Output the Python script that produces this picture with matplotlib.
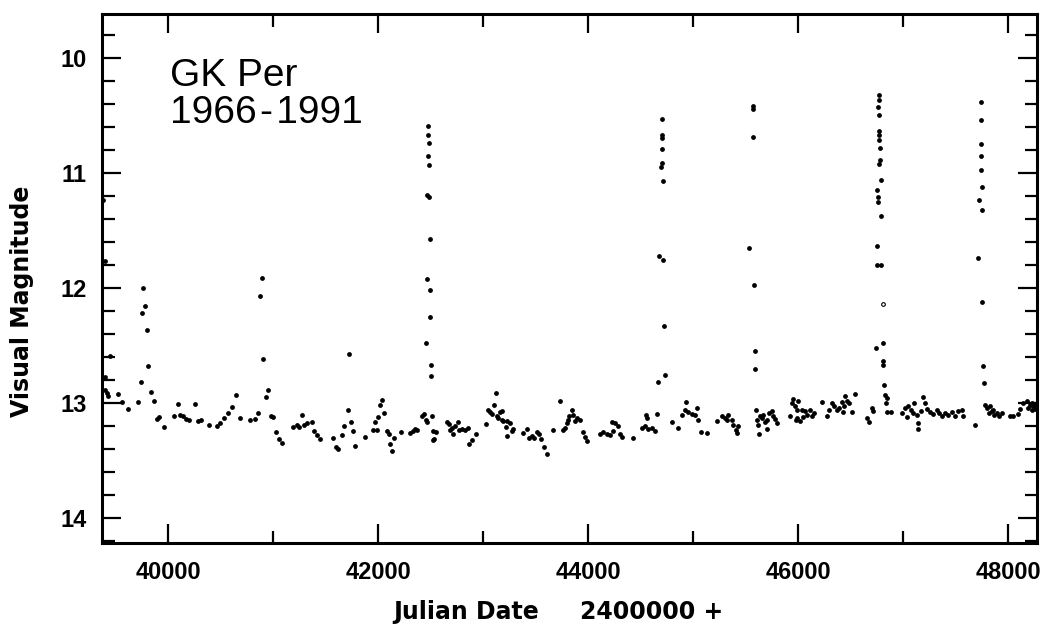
import numpy as np
from matplotlib import pyplot as plt
from matplotlib.ticker import MultipleLocator

## GK Per visual light curve, JD - 2400000 vs visual magnitude

# quiescent points between outbursts
quiet_jd = [
    39400, 39400, 39416, 39431, 39527, 39558, 39622, 39717, 39739, 39835,
    39866, 39898, 39917, 39965, 40060, 40092, 40114, 40146, 40171, 40200,
    40257, 40289, 40311, 40393, 40463, 40495, 40536, 40568, 40606, 40644,
    40686, 40781, 40828, 40854, 40930, 40952, 40981, 41003, 41028, 41057,
    41089, 41194, 41225, 41251, 41279, 41295, 41320, 41368, 41393, 41422,
    41447, 41568, 41600, 41622, 41660, 41680, 41718, 41740, 41759, 41784,
    41873, 41949, 41972, 41987, 42003, 42019, 42041, 42057, 42083, 42105,
    42115, 42130, 42156, 42219, 42305, 42330, 42353, 42375, 42416, 42438,
    42454, 42464, 42511, 42521, 42527, 42534, 42553, 42654, 42680, 42686,
    42702, 42718, 42734, 42759, 42775, 42797, 42829, 42861, 42866, 42892,
    42930, 43029, 43051, 43067, 43089, 43108, 43121, 43131, 43146, 43162,
    43178, 43184, 43194, 43219, 43226, 43232, 43258, 43273, 43283, 43385,
    43416, 43442, 43464, 43486, 43511, 43537, 43550, 43584, 43607, 43664,
    43734, 43765, 43781, 43797, 43812, 43823, 43844, 43860, 43876, 43892,
    43924, 43949, 43971, 43987, 44114, 44146, 44178, 44209, 44225, 44241,
    44257, 44289, 44305, 44320, 44425, 44511, 44543, 44552, 44565, 44574,
    44606, 44638, 44654, 44797, 44860, 44892, 44924, 44933, 44955, 44987,
    45019, 45041, 45051, 45073, 45136, 45225, 45273, 45305, 45321, 45336,
    45368, 45384, 45409, 45422, 45432, 45600, 45606, 45622, 45632, 45638,
    45654, 45670, 45686, 45701, 45708, 45727, 45749, 45765, 45781, 45797,
    45924, 45940, 45956, 45971, 45981, 45988, 45994, 46003, 46019, 46035,
    46051, 46067, 46083, 46115, 46130, 46153, 46226, 46280, 46299, 46321,
    46343, 46368, 46394, 46416, 46426, 46438, 46448, 46464, 46489, 46511,
    46543, 46654, 46680, 46702, 46718, 46829, 46838, 46851, 46883, 46988,
    47019, 47042, 47051, 47073, 47092, 47105, 47130, 47140, 47145, 47169,
    47194, 47210, 47226, 47258, 47289, 47321, 47346, 47369, 47400, 47432,
    47464, 47496, 47527, 47559, 47575, 47686, 47781, 47804, 47823, 47829,
    47845, 47861, 47867, 47892, 47918, 47940, 48019, 48045, 48099, 48115,
    48146, 48178, 48194, 48210, 48226, 48230, 48242, 48250, 48257, 48265,
    48273,
]
quiet_mag = [
    12.777, 12.887, 12.916, 12.945, 12.925, 12.990, 13.055, 12.994, 12.823, 12.910,
    12.983, 13.142, 13.125, 13.215, 13.119, 13.012, 13.104, 13.119, 13.139, 13.148,
    13.012, 13.163, 13.148, 13.192, 13.206, 13.177, 13.134, 13.090, 13.038, 12.933,
    13.134, 13.154, 13.139, 13.090, 12.954, 12.887, 13.119, 13.125, 13.258, 13.316,
    13.351, 13.212, 13.192, 13.215, 13.110, 13.192, 13.177, 13.168, 13.244, 13.278,
    13.316, 13.307, 13.386, 13.403, 13.278, 13.206, 13.067, 13.168, 13.244, 13.374,
    13.299, 13.241, 13.168, 13.241, 13.125, 13.023, 12.974, 13.090, 13.250, 13.270,
    13.357, 13.418, 13.307, 13.255, 13.264, 13.250, 13.229, 13.235, 13.113, 13.099,
    13.148, 13.165, 13.113, 13.325, 13.250, 13.316, 13.258, 13.171, 13.186, 13.235,
    13.220, 13.270, 13.206, 13.168, 13.235, 13.226, 13.235, 13.220, 13.357, 13.322,
    13.270, 13.183, 13.061, 13.084, 13.099, 13.023, 12.916, 13.119, 13.134, 13.084,
    13.148, 13.075, 13.163, 13.212, 13.163, 13.293, 13.177, 13.250, 13.229, 13.264,
    13.229, 13.307, 13.293, 13.307, 13.258, 13.270, 13.313, 13.386, 13.444, 13.241,
    12.988, 13.241, 13.220, 13.177, 13.148, 13.119, 13.067, 13.104, 13.163, 13.134,
    13.148, 13.258, 13.299, 13.336, 13.270, 13.258, 13.270, 13.278, 13.171, 13.250,
    13.177, 13.206, 13.270, 13.299, 13.307, 13.220, 13.206, 13.104, 13.134, 13.229,
    13.220, 13.250, 13.096, 13.168, 13.220, 13.104, 13.061, 12.997, 13.084, 13.096,
    13.104, 13.046, 13.148, 13.258, 13.264, 13.163, 13.113, 13.134, 13.154, 13.104,
    13.148, 13.192, 13.235, 13.264, 13.200, 13.061, 13.148, 13.192, 13.270, 13.119,
    13.134, 13.104, 13.171, 13.148, 13.229, 13.090, 13.075, 13.119, 13.142, 13.177,
    13.119, 13.003, 12.968, 13.032, 13.148, 13.134, 13.061, 12.988, 13.163, 13.067,
    13.125, 13.075, 13.104, 13.061, 13.119, 13.090, 12.997, 13.119, 13.061, 13.003,
    13.032, 13.061, 13.046, 12.997, 13.084, 13.032, 12.945, 12.988, 13.003, 13.084,
    12.925, 13.134, 13.171, 13.046, 13.075, 12.930, 13.003, 13.084, 13.084, 13.090,
    13.046, 13.125, 13.026, 13.061, 13.090, 13.003, 13.104, 13.177, 13.229, 13.075,
    12.951, 13.003, 13.055, 13.084, 13.096, 13.061, 13.090, 13.113, 13.090, 13.104,
    13.084, 13.113, 13.075, 13.061, 13.119, 13.192, 13.017, 13.046, 13.090, 13.032,
    13.075, 13.061, 13.104, 13.090, 13.113, 13.090, 13.113, 13.119, 13.096, 13.055,
    13.003, 12.988, 13.046, 13.017, 13.061, 13.000, 13.032, 13.020, 13.055, 13.040,
    13.003,
]

# rises and declines of the dwarf-nova outbursts
burst_jd = [
    39384, 39400, 39448,
    39755, 39765, 39781, 39803, 39812,
    40876, 40892, 40908,
    41727,
    42457, 42470, 42470, 42473, 42480, 42480, 42486, 42486, 42489, 42495,
    42495, 42495, 42502, 42502,
    44670, 44680, 44696, 44702, 44702, 44708, 44708, 44708, 44711, 44718,
    44724, 44734,
    45537, 45569, 45569, 45569, 45581, 45591, 45591,
    46743, 46750, 46750, 46750, 46762, 46766, 46766, 46772, 46775, 46775,
    46775, 46775, 46775, 46775, 46781, 46781, 46788, 46791, 46791, 46807,
    46813, 46813, 46819, 46845,
    47718, 47728, 47740, 47740, 47740, 47740, 47747, 47750, 47753, 47756,
    47766, 47775,
]
burst_mag = [
    11.235, 11.771, 12.597,
    12.220, 12.003, 12.160, 12.365, 12.678,
    12.075, 11.916, 12.617,
    12.574,
    12.481, 11.192, 11.925, 10.858, 10.592, 10.670, 10.742, 10.931, 11.212, 11.574,
    12.018, 12.256, 12.669, 12.771,
    12.820, 11.722, 10.951, 10.534, 10.794, 10.670, 10.699, 10.916, 11.076, 11.757,
    12.330, 12.756,
    11.656, 10.418, 10.447, 10.690, 11.975, 12.548, 12.707,
    12.524, 11.148, 11.641, 11.800, 11.212, 10.430, 11.258, 10.670, 10.322, 10.366,
    10.496, 10.641, 10.713, 10.922, 10.786, 10.887, 11.806, 11.061, 11.380, 12.481,
    12.640, 12.669, 12.843, 12.959,
    11.742, 11.235, 10.388, 10.545, 10.748, 10.852, 10.980, 11.125, 11.322, 12.128,
    12.678, 12.829,
]

# single estimate drawn as an open circle
open_jd = [46807]
open_mag = [12.140]

plt.rcParams['font.family'] = ['DejaVu Sans']
tick_font = ['Liberation Sans', 'DejaVu Sans']

fig = plt.figure(figsize=(10.44, 6.26), dpi=100)
ax = fig.add_axes([0.0977, 0.1326, 0.8956, 0.845])

ax.scatter(quiet_jd, quiet_mag, s=12, c='black', linewidths=0)
ax.scatter(burst_jd, burst_mag, s=12, c='black', linewidths=0)
ax.scatter(open_jd, open_mag, s=7, facecolors='white', edgecolors='black', linewidths=0.8)

ax.set_xlim(39371, 48276)
ax.set_ylim(14.22, 9.62)   # magnitudes: brighter is up

ax.xaxis.set_major_locator(MultipleLocator(2000))
ax.xaxis.set_minor_locator(MultipleLocator(1000))
ax.yaxis.set_major_locator(MultipleLocator(1))
ax.yaxis.set_minor_locator(MultipleLocator(0.2))
ax.tick_params(which='both', direction='in', top=True, right=True, width=1.6, colors='black')
ax.tick_params(which='major', length=14)
ax.tick_params(which='minor', length=9)
ax.tick_params(axis='x', which='major', pad=13, labelsize=17)
ax.tick_params(axis='y', which='major', pad=11, labelsize=17)
for lab in ax.get_xticklabels() + ax.get_yticklabels():
    lab.set_fontweight('bold')
    lab.set_family(tick_font)
for sp in ax.spines.values():
    sp.set_linewidth(2.2)

ax.set_xlabel('Julian Date     2400000 +', fontsize=17, fontweight='bold')
ax.xaxis.set_label_coords(0.4877, -0.1304)
ax.xaxis.label.set_va('center')
ax.set_ylabel('Visual Magnitude', fontsize=17, fontweight='bold')
ax.yaxis.set_label_coords(-0.0856, 0.4565)
ax.yaxis.label.set_va('center')

fig.text(170 / 1044, 1 - 58 / 626, 'GK Per\n1966\u200a-\u200a1991', fontsize=28,
         family=['Liberation Sans', 'DejaVu Sans'], va='top', ha='left', linespacing=1.05)

fig.savefig('out.png', dpi=100)
